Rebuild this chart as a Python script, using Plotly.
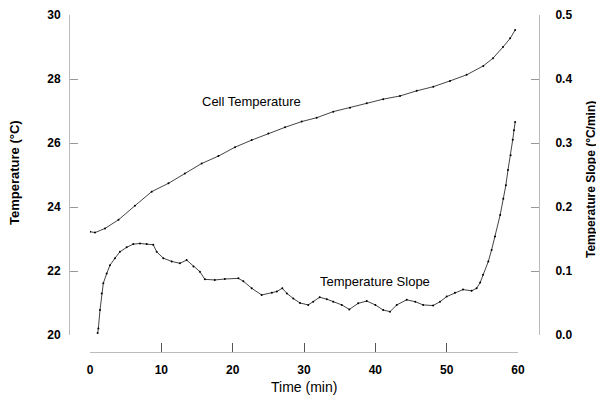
import plotly.graph_objects as go

# Cell temperature (°C) vs time (min)
cell_time = [0.0, 0.7, 2.1, 4.0, 6.3, 8.65, 11.0, 13.3, 15.66, 18.0, 20.33, 22.67, 25.0,
             27.34, 29.68, 31.78, 34.1, 36.45, 38.8, 41.1, 43.46, 45.8, 48.13, 50.47,
             52.8, 55.14, 56.5, 57.9, 58.9, 59.6]
cell_temp = [23.23, 23.2, 23.33, 23.6, 24.04, 24.48, 24.74, 25.05, 25.36, 25.59, 25.87,
             26.09, 26.3, 26.49, 26.67, 26.79, 26.98, 27.1, 27.24, 27.37, 27.47, 27.63,
             27.76, 27.94, 28.13, 28.41, 28.65, 29.0, 29.27, 29.53]

# Temperature slope (°C/min) vs time (min)
slope_time = [1.07, 1.17, 1.4, 1.64, 1.87, 2.34, 2.8, 3.5, 4.2, 5.14, 6.07, 7.0, 7.95, 8.87,
              9.35, 10.28, 11.45, 12.6, 13.55, 14.5, 15.4, 16.1, 17.5, 18.9, 20.8, 21.5,
              22.67, 24.07, 25.5, 26.2, 26.96, 27.6, 28.5, 29.44, 30.6, 31.3, 32.2, 33.2,
              34.1, 35.3, 36.35, 37.6, 38.8, 40.0, 41.1, 42.06, 43.0, 44.4, 45.6, 46.7,
              48.1, 49.07, 50.0, 51.17, 52.3, 53.5, 54.2, 54.7, 55.1, 55.84, 56.3, 56.78,
              57.5, 57.94, 58.3, 58.6, 58.97, 59.26, 59.44, 59.6]
slope_val = [0.003, 0.010, 0.039, 0.065, 0.081, 0.096, 0.109, 0.120, 0.130, 0.137, 0.142,
             0.143, 0.142, 0.141, 0.130, 0.120, 0.115, 0.112, 0.117, 0.107, 0.099, 0.087,
             0.086, 0.0875, 0.0885, 0.084, 0.073, 0.0625, 0.066, 0.068, 0.073, 0.065,
             0.057, 0.050, 0.047, 0.052, 0.059, 0.056, 0.052, 0.047, 0.040, 0.0495, 0.053,
             0.047, 0.039, 0.0365, 0.047, 0.055, 0.052, 0.047, 0.046, 0.052, 0.060, 0.066,
             0.071, 0.069, 0.073, 0.082, 0.094, 0.115, 0.133, 0.154, 0.1875, 0.213, 0.234,
             0.258, 0.281, 0.305, 0.320, 0.333]

x_ticks = [0, 10, 20, 30, 40, 50, 60]
left_ticks = [20, 22, 24, 26, 28, 30]
right_ticks = [0.0, 0.1, 0.2, 0.3, 0.4, 0.5]

# The page body adds an 8px margin; map window pixels to figure pixels.
OFF = 8
W, H = 604 - OFF, 404 - OFF
def px(x):
    return (x - OFF) / W
def py(y):
    return 1 - (y - OFF) / H

fig = go.Figure()
fig.add_trace(go.Scatter(x=cell_time, y=cell_temp, mode="lines+markers",
                         line=dict(color="#444", width=1), marker=dict(color="black", size=2),
                         yaxis="y", showlegend=False))
fig.add_trace(go.Scatter(x=slope_time, y=slope_val, mode="lines+markers",
                         line=dict(color="#444", width=1), marker=dict(color="black", size=2),
                         yaxis="y2", showlegend=False))

tickfont = dict(family="Liberation Sans", size=12, color="black", weight="bold")
fig.update_layout(
    width=W, height=H, margin=dict(l=0, r=0, t=0, b=0),
    paper_bgcolor="white", plot_bgcolor="white",
    xaxis=dict(domain=[px(90), px(518)], range=[0, 60], anchor="free", position=py(352.4),
               tickvals=x_ticks, ticks="inside", ticklen=9, tickcolor="#555", tickwidth=1,
               ticklabelstandoff=6,
               showline=True, linecolor="#bbb", linewidth=1, showgrid=False, zeroline=False,
               tickfont=tickfont, automargin=False),
    yaxis=dict(domain=[py(335), py(15)], range=[20, 30], anchor="free", position=px(69),
               tickvals=left_ticks, ticks="inside", ticklen=8, tickcolor="#999",
               ticklabelstandoff=6,
               showline=True, linecolor="#bbb", linewidth=1, showgrid=False, zeroline=False,
               tickfont=tickfont, automargin=False),
    yaxis2=dict(domain=[py(335), py(15)], range=[0, 0.5], anchor="free", position=px(539),
                overlaying="y", side="right", tickvals=right_ticks, tickformat=".1f",
                ticks="inside", ticklen=8, tickcolor="#999", ticklabelstandoff=13,
                showline=True, linecolor="#bbb", linewidth=1, showgrid=False, zeroline=False,
                tickfont=tickfont, automargin=False),
    annotations=[
        dict(text="Temperature (°C)", x=px(14), y=py(173), xref="paper", yref="paper",
             textangle=-90, showarrow=False, xanchor="center", yanchor="middle",
             font=dict(family="Liberation Sans", size=13, color="black", weight="bold")),
        dict(text="Temperature Slope (°C/min)", x=px(591), y=py(180), xref="paper", yref="paper",
             textangle=-90, showarrow=False, xanchor="center", yanchor="middle",
             font=dict(family="Liberation Sans", size=12, color="black", weight="bold")),
        dict(text="Time (min)", x=px(304), y=py(387), xref="paper", yref="paper",
             showarrow=False, xanchor="center", yanchor="middle",
             font=dict(family="Liberation Sans", size=14, color="black")),
        dict(text="Cell Temperature", x=px(251), y=py(101), xref="paper", yref="paper",
             showarrow=False, xanchor="center", yanchor="middle",
             font=dict(family="Liberation Sans", size=13, color="black")),
        dict(text="Temperature Slope", x=px(375), y=py(281), xref="paper", yref="paper",
             showarrow=False, xanchor="center", yanchor="middle",
             font=dict(family="Liberation Sans", size=13, color="black")),
    ],
)

fig.write_html("out.html")
